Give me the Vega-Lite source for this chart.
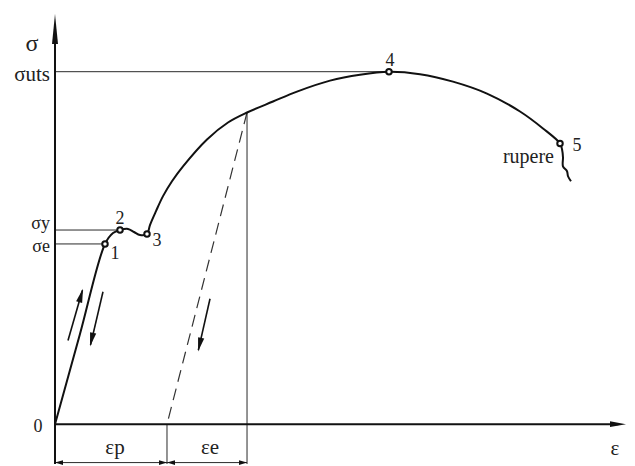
{
  "$schema": "https://vega.github.io/schema/vega-lite/v6.json",
  "width": 635,
  "height": 466,
  "autosize": {"type": "fit", "contains": "padding"},
  "padding": 0,
  "background": "white",
  "config": {"view": {"stroke": null}},
  "datasets": {
    "curve": [
      {"i": 0, "e": 0, "s": 0},
      {"i": 1, "e": 4.46, "s": 25.57},
      {"i": 2, "e": 8.93, "s": 51.13},
      {"i": 3, "e": 10.36, "s": 54.24},
      {"i": 4, "e": 11.61, "s": 55.08},
      {"i": 5, "e": 13.04, "s": 55.4},
      {"i": 6, "e": 14.11, "s": 54.52},
      {"i": 7, "e": 15.18, "s": 53.67},
      {"i": 8, "e": 16.43, "s": 53.95},
      {"i": 9, "e": 16.96, "s": 56.5},
      {"i": 10, "e": 18.04, "s": 60.45},
      {"i": 11, "e": 19.29, "s": 64.69},
      {"i": 12, "e": 20.89, "s": 68.93},
      {"i": 13, "e": 22.86, "s": 73.16},
      {"i": 14, "e": 27.14, "s": 80.79},
      {"i": 15, "e": 30.89, "s": 85.59},
      {"i": 16, "e": 34.29, "s": 88.42},
      {"i": 17, "e": 38.93, "s": 91.53},
      {"i": 18, "e": 43.21, "s": 94.35},
      {"i": 19, "e": 49.11, "s": 97.46},
      {"i": 20, "e": 54.46, "s": 99.15},
      {"i": 21, "e": 59.64, "s": 100},
      {"i": 22, "e": 65.18, "s": 99.3},
      {"i": 23, "e": 71.07, "s": 97.18},
      {"i": 24, "e": 77.14, "s": 93.8},
      {"i": 25, "e": 83.04, "s": 88.7},
      {"i": 26, "e": 87.14, "s": 83.9},
      {"i": 27, "e": 90.18, "s": 79.66},
      {"i": 28, "e": 90.54, "s": 77.97},
      {"i": 29, "e": 90.71, "s": 75.71},
      {"i": 30, "e": 90.71, "s": 73.16},
      {"i": 31, "e": 91.43, "s": 71.75},
      {"i": 32, "e": 91.61, "s": 70.34},
      {"i": 33, "e": 92.14, "s": 68.93}
    ],
    "markers": [
      {"n": 1, "e": 8.93, "s": 51.13},
      {"n": 2, "e": 11.61, "s": 55.08},
      {"n": 3, "e": 16.43, "s": 53.95},
      {"n": 4, "e": 59.64, "s": 100},
      {"n": 5, "e": 90.18, "s": 79.66}
    ],
    "guides": [
      {"e": 0, "s": 100, "e2": 59.64, "s2": 100},
      {"e": 0, "s": 55.08, "e2": 11.61, "s2": 55.08},
      {"e": 0, "s": 51.13, "e2": 8.93, "s2": 51.13},
      {"e": 34.29, "s": 88.42, "e2": 34.29, "s2": -11.3},
      {"e": 20, "s": 0, "e2": 20, "s2": -11.3},
      {"e": 0, "s": -10.9, "e2": 34.29, "s2": -10.9}
    ],
    "axes": [
      {"e": 0, "s": -11.3, "e2": 0, "s2": 112},
      {"e": 0, "s": 0, "e2": 100.6, "s2": 0}
    ],
    "unload": [
      {"e": 34.29, "s": 88.42, "e2": 20, "s2": 0}
    ],
    "shafts": [
      {"e": 2.32, "s": 23.73, "e2": 4.9, "s2": 38.0},
      {"e": 8.57, "s": 37.57, "e2": 6.35, "s2": 22.5},
      {"e": 27.68, "s": 35.59, "e2": 25.6, "s2": 21.0}
    ],
    "tipUp": [{"e": 0, "s": 116.38}],
    "tipRight": [{"e": 101.96, "s": 0}],
    "tipLoad": [{"e": 5.0, "s": 38.42}],
    "tipUnload": [{"e": 6.25, "s": 22.03}, {"e": 25.54, "s": 20.62}],
    "dimRight": [{"e": 20, "s": -10.9}, {"e": 34.29, "s": -10.9}],
    "dimLeft": [{"e": 0, "s": -10.9}, {"e": 20, "s": -10.9}],
    "stressLabels": [
      {"t": "σuts", "e": -0.9, "s": 97.3}
    ],
    "yieldLabels": [
      {"t": "σy", "e": -0.9, "s": 55.3},
      {"t": "σe", "e": -0.9, "s": 48.9}
    ],
    "pointLabels": [
      {"t": "1", "e": 10.71, "s": 46.8},
      {"t": "2", "e": 11.61, "s": 56.7},
      {"t": "3", "e": 18.21, "s": 50.5},
      {"t": "4", "e": 59.82, "s": 101.6},
      {"t": "5", "e": 93.21, "s": 77.6},
      {"t": "0", "e": -3.04, "s": -2.2}
    ],
    "rupture": [{"t": "rupere", "e": 89.1, "s": 74.0}],
    "strainLabels": [
      {"t": "εp", "e": 10.71, "s": -8.4},
      {"t": "εe", "e": 27.68, "s": -8.4},
      {"t": "ε", "e": 100, "s": -8.8}
    ],
    "sigma": [{"t": "σ", "e": -4.11, "s": 106.0}]
  },
  "encoding": {
    "x": {"field": "e", "type": "quantitative", "scale": {"domain": [-9.821, 103.571], "nice": false, "zero": false}, "axis": null},
    "y": {"field": "s", "type": "quantitative", "scale": {"domain": [-11.299, 120.339], "nice": false, "zero": false}, "axis": null}
  },
  "layer": [
    {
      "data": {"name": "guides"},
      "mark": {"type": "rule", "color": "#2a2a2a", "strokeWidth": 1},
      "encoding": {"x2": {"field": "e2"}, "y2": {"field": "s2"}}
    },
    {
      "data": {"name": "axes"},
      "mark": {"type": "rule", "color": "#111", "strokeWidth": 2},
      "encoding": {"x2": {"field": "e2"}, "y2": {"field": "s2"}}
    },
    {
      "data": {"name": "unload"},
      "mark": {"type": "rule", "color": "#333", "strokeWidth": 1.2, "strokeDash": [12, 7]},
      "encoding": {"x2": {"field": "e2"}, "y2": {"field": "s2"}}
    },
    {
      "data": {"name": "curve"},
      "mark": {"type": "line", "color": "#111", "strokeWidth": 2, "interpolate": "catmull-rom"},
      "encoding": {"order": {"field": "i", "type": "quantitative"}}
    },
    {
      "data": {"name": "shafts"},
      "mark": {"type": "rule", "color": "#111", "strokeWidth": 1.6},
      "encoding": {"x2": {"field": "e2"}, "y2": {"field": "s2"}}
    },
    {
      "data": {"name": "markers"},
      "mark": {"type": "point", "shape": "circle", "filled": false, "fill": "white", "fillOpacity": 1, "stroke": "#111", "strokeWidth": 2, "size": 30, "opacity": 1}
    },
    {
      "data": {"name": "tipUp"},
      "mark": {"type": "point", "shape": "M0,0L0.2,2L-0.2,2Z", "filled": true, "color": "#111", "size": 900, "angle": 0, "opacity": 1}
    },
    {
      "data": {"name": "tipRight"},
      "mark": {"type": "point", "shape": "M0,0L0.35,2L-0.35,2Z", "filled": true, "color": "#111", "size": 256, "angle": 90, "opacity": 1}
    },
    {
      "data": {"name": "tipLoad"},
      "mark": {"type": "point", "shape": "M0,0L0.45,2L-0.45,2Z", "filled": true, "color": "#111", "size": 196, "angle": 16, "opacity": 1}
    },
    {
      "data": {"name": "tipUnload"},
      "mark": {"type": "point", "shape": "M0,0L0.45,2L-0.45,2Z", "filled": true, "color": "#111", "size": 196, "angle": 193, "opacity": 1}
    },
    {
      "data": {"name": "dimRight"},
      "mark": {"type": "point", "shape": "M0,0L0.6,2L-0.6,2Z", "filled": true, "color": "#111", "size": 64, "angle": 90, "opacity": 1}
    },
    {
      "data": {"name": "dimLeft"},
      "mark": {"type": "point", "shape": "M0,0L0.6,2L-0.6,2Z", "filled": true, "color": "#111", "size": 64, "angle": 270, "opacity": 1}
    },
    {
      "data": {"name": "stressLabels"},
      "mark": {"type": "text", "align": "right", "baseline": "alphabetic", "font": "Liberation Serif", "fontSize": 21, "color": "#222"},
      "encoding": {"text": {"field": "t"}}
    },
    {
      "data": {"name": "yieldLabels"},
      "mark": {"type": "text", "align": "right", "baseline": "alphabetic", "font": "Liberation Serif", "fontSize": 18, "color": "#222"},
      "encoding": {"text": {"field": "t"}}
    },
    {
      "data": {"name": "sigma"},
      "mark": {"type": "text", "align": "center", "baseline": "alphabetic", "font": "Liberation Serif", "fontSize": 24, "color": "#222"},
      "encoding": {"text": {"field": "t"}}
    },
    {
      "data": {"name": "pointLabels"},
      "mark": {"type": "text", "align": "center", "baseline": "alphabetic", "font": "Liberation Serif", "fontSize": 18, "color": "#222"},
      "encoding": {"text": {"field": "t"}}
    },
    {
      "data": {"name": "rupture"},
      "mark": {"type": "text", "align": "right", "baseline": "alphabetic", "font": "Liberation Serif", "fontSize": 20, "color": "#222"},
      "encoding": {"text": {"field": "t"}}
    },
    {
      "data": {"name": "strainLabels"},
      "mark": {"type": "text", "align": "center", "baseline": "alphabetic", "font": "Liberation Serif", "fontSize": 21, "color": "#222"},
      "encoding": {"text": {"field": "t"}}
    }
  ]
}
